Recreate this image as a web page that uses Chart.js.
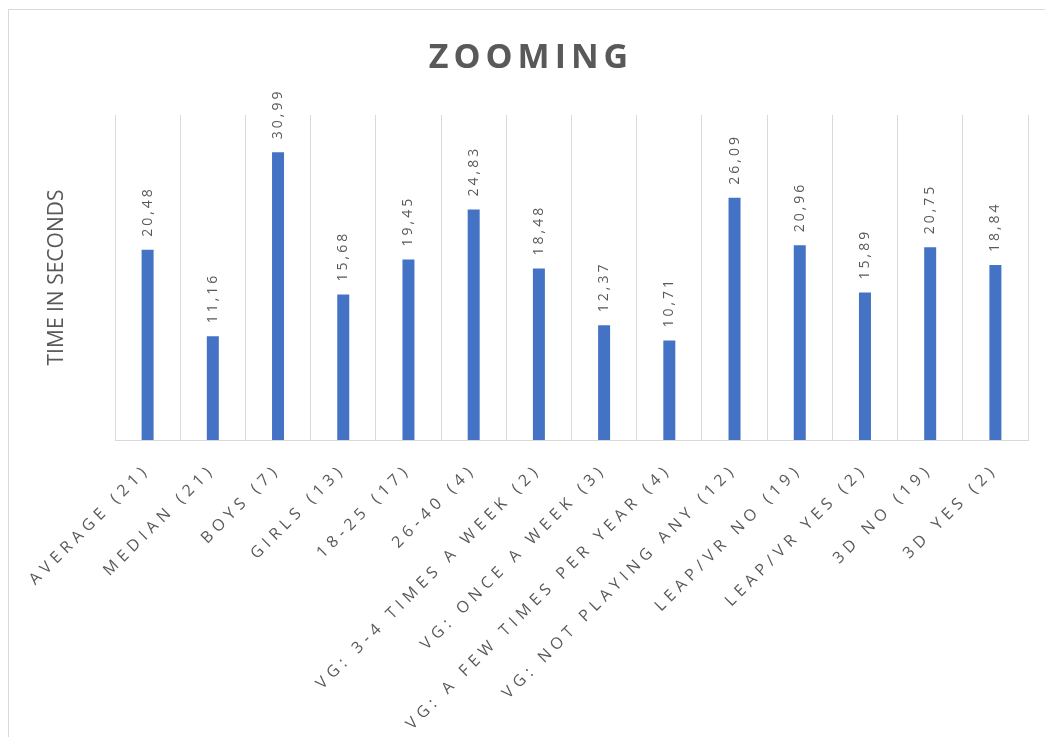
<!DOCTYPE html>
<html>
<head>
<meta charset="utf-8">
<script src="https://cdn.jsdelivr.net/npm/chart.js@4.4.0/dist/chart.umd.min.js"></script>
<style>
  html, body { margin: 0; padding: 0; background: #ffffff; overflow: hidden; }
  #frame { position: absolute; left: 8px; top: 9px; width: 1100px; height: 800px; border: 1px solid #d9d9d9; box-sizing: border-box; }
  #c { position: absolute; left: 0; top: 0; }
</style>
</head>
<body>
<div id="frame"></div>
<canvas id="c" width="1045" height="737"></canvas>
<script>
// ---- data ----
const chartTitle = 'ZOOMING';
const yAxisTitle = 'TIME IN SECONDS';
const categories = [
  'AVERAGE (21)', 'MEDIAN (21)', 'BOYS (7)', 'GIRLS (13)', '18-25 (17)', '26-40 (4)',
  'VG: 3-4 TIMES A WEEK (2)', 'VG: ONCE A WEEK (3)', 'VG: A FEW TIMES PER YEAR (4)',
  'VG: NOT PLAYING ANY (12)', 'LEAP/VR NO (19)', 'LEAP/VR YES (2)', '3D NO (19)', '3D YES (2)'
];
const timeSeconds = [20.48, 11.16, 30.99, 15.68, 19.45, 24.83, 18.48, 12.37, 10.71, 26.09, 20.96, 15.89, 20.75, 18.84];

// ---- styling ----
const TEXT_COLOR = '#595959';
const GRID_COLOR = '#d9d9d9';
const BAR_COLOR = '#4472C4';
const FONT = "'Open Sans', sans-serif";
const X_SPACING = '5.2px';
const LABEL_SPACING = '3px';
const TITLE_SPACING = '5px';

// Category scale whose labels are drawn with letter spacing
class SpacedCategoryScale extends Chart.CategoryScale {
  update(maxWidth, maxHeight, margins) {
    const ctx = this.ctx;
    const prev = ctx.letterSpacing;
    ctx.letterSpacing = X_SPACING;
    const r = super.update(maxWidth, maxHeight, margins);
    ctx.letterSpacing = prev;
    return r;
  }
  drawLabels(area) {
    const ctx = this.ctx;
    ctx.save();
    ctx.letterSpacing = X_SPACING;
    super.drawLabels(area);
    ctx.restore();
  }
}
SpacedCategoryScale.id = 'spacedCategory';
SpacedCategoryScale.defaults = Chart.CategoryScale.defaults;
Chart.register(SpacedCategoryScale);

const titlePlugin = {
  id: 'spacedTitle',
  afterDraw(chart) {
    const ctx = chart.ctx;
    ctx.save();
    ctx.letterSpacing = TITLE_SPACING;
    ctx.font = "bold 34px " + FONT;
    ctx.fillStyle = TEXT_COLOR;
    ctx.textAlign = 'center';
    ctx.textBaseline = 'alphabetic';
    ctx.fillText(chartTitle, 531, 68);
    ctx.restore();
  }
};

const valueLabels = {
  id: 'valueLabels',
  afterDatasetsDraw(chart) {
    const ctx = chart.ctx;
    const meta = chart.getDatasetMeta(0);
    ctx.save();
    ctx.letterSpacing = LABEL_SPACING;
    ctx.font = "14px " + FONT;
    ctx.fillStyle = TEXT_COLOR;
    ctx.textAlign = 'left';
    ctx.textBaseline = 'middle';
    meta.data.forEach((bar, i) => {
      const txt = timeSeconds[i].toFixed(2).replace('.', ',');
      ctx.save();
      ctx.translate(bar.x, bar.y - 13);
      ctx.rotate(-Math.PI / 2);
      ctx.fillText(txt, 0, 0);
      ctx.restore();
    });
    ctx.restore();
  }
};

new Chart(document.getElementById('c'), {
  type: 'bar',
  data: {
    labels: categories,
    datasets: [{
      label: yAxisTitle,
      data: timeSeconds,
      backgroundColor: BAR_COLOR,
      borderWidth: 0,
      barPercentage: 0.184,
      categoryPercentage: 1
    }]
  },
  options: {
    responsive: false,
    animation: false,
    devicePixelRatio: 1,
    layout: { padding: { top: 115, right: 17, bottom: 0, left: 0 } },
    plugins: {
      legend: { display: false },
      tooltip: { enabled: false },
      title: { display: false }
    },
    scales: {
      x: {
        type: 'spacedCategory',
        grid: { display: true, offset: true, drawTicks: false, color: GRID_COLOR, lineWidth: 1 },
        border: { display: true, color: GRID_COLOR, width: 1 },
        ticks: {
          autoSkip: false, minRotation: 45, maxRotation: 45, padding: 20,
          color: TEXT_COLOR, font: { family: FONT, size: 16 }
        },
        afterFit(scale) { scale.height = 297; }
      },
      y: {
        min: 0, max: 35,
        grid: { display: false },
        border: { display: false },
        ticks: { display: false },
        title: {
          display: true, text: yAxisTitle, color: TEXT_COLOR,
          font: { family: FONT, size: 21 }, padding: { top: 44, bottom: 0 }
        },
        afterFit(scale) { scale.width = 115; }
      }
    }
  },
  plugins: [valueLabels, titlePlugin]
});
</script>
</body>
</html>
